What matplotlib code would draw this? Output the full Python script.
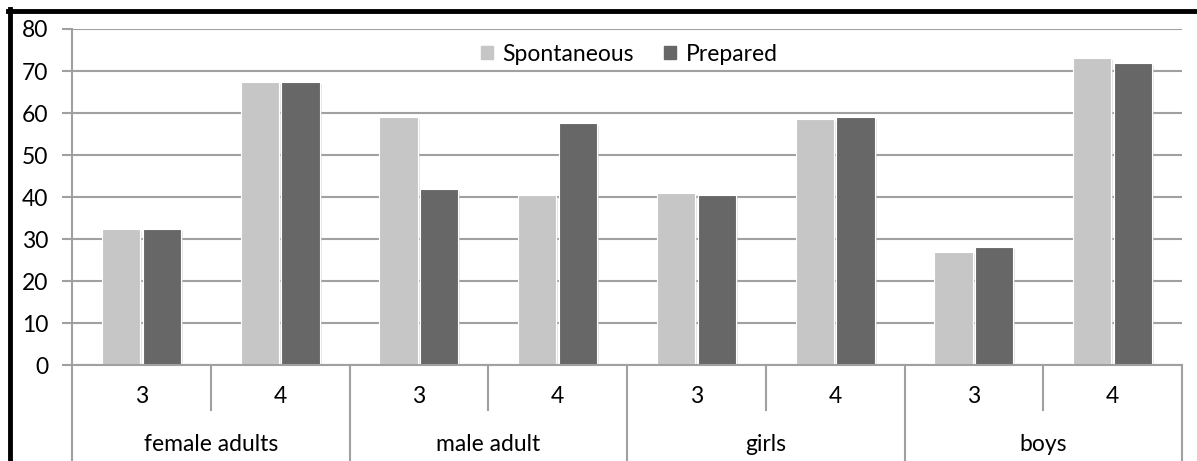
import matplotlib
matplotlib.use("Agg")
import matplotlib.pyplot as plt
import matplotlib.patheffects as pe
from matplotlib.lines import Line2D
from matplotlib.patches import Patch
import numpy as np

groups = ["female adults", "male adult", "girls", "boys"]
levels = ["3", "4"]
spontaneous = [32.3, 67.3, 59.0, 40.5, 41.0, 58.5, 27.0, 73.0]
prepared = [32.3, 67.3, 42.0, 57.5, 40.5, 59.0, 28.0, 71.8]

plt.rcParams['font.family'] = ['Lato', 'DejaVu Sans']

W, H = 1197, 461
fig = plt.figure(figsize=(W / 100, H / 100), dpi=100)
ax = fig.add_axes([72 / W, (H - 365) / H, (1182 - 72) / W, 336 / H])

x = np.arange(len(spontaneous))
bw = 0.275
shadow = [pe.SimplePatchShadow(offset=(1.5, -1.5), shadow_rgbFace='0.8', alpha=0.5), pe.Normal()]
b1 = ax.bar(x - 0.147, spontaneous, bw, color='#c6c6c6', edgecolor='white', linewidth=0.8, zorder=3)
b2 = ax.bar(x + 0.147, prepared, bw, color='#676767', edgecolor='white', linewidth=0.8, zorder=3)
for b in list(b1) + list(b2):
    b.set_path_effects(shadow)

fs = 16.5
ax.set_xlim(-0.5, len(x) - 0.5)
ax.set_ylim(0, 80)
ax.set_yticks(range(0, 81, 10))
ax.yaxis.grid(True, color='#a0a0a0', linewidth=1.5, zorder=0)
ax.set_axisbelow(True)
for s in ['top', 'right', 'bottom']:
    ax.spines[s].set_visible(False)
ax.spines['left'].set_color('#a0a0a0')
ax.spines['left'].set_linewidth(1.5)
ax.tick_params(axis='y', length=7, width=1.5, color='#a0a0a0', labelsize=fs, pad=10)
ax.set_xticks([])

# category axis below
tr = ax.get_xaxis_transform()
ax.plot([-0.5, len(x) - 0.5], [0, 0], transform=tr, color='#a0a0a0', lw=1.5, clip_on=False, zorder=4)
for i in range(len(x) + 1):
    xp = i - 0.5
    bottom = -0.29 if i % 2 == 0 else -0.134
    ax.plot([xp, xp], [0, bottom], transform=tr, color='#a0a0a0', lw=1.5, clip_on=False)
for i in range(len(x)):
    ax.text(i, -0.095, levels[i % 2], transform=tr, ha='center', va='center', fontsize=fs)
for g, name in enumerate(groups):
    ax.text(2 * g + 0.5, -0.238, name, transform=tr, ha='center', va='center', fontsize=fs)

handles = [Patch(color='#c6c6c6'), Patch(color='#676767')]
ax.legend(handles, ["Spontaneous", "Prepared"], loc='center', bbox_to_anchor=(0.502, 0.925),
          ncol=2, frameon=False, fontsize=fs, handlelength=0.55, handleheight=0.55,
          handletextpad=0.4, columnspacing=1.3)

# black border
fig.add_artist(Line2D([8 / W, 1], [(H - 11) / H, (H - 11) / H], color='black', lw=3.5))
fig.add_artist(Line2D([10 / W, 10 / W], [0, (H - 9) / H], color='black', lw=3.5))

fig.savefig("out.png", dpi=100)
